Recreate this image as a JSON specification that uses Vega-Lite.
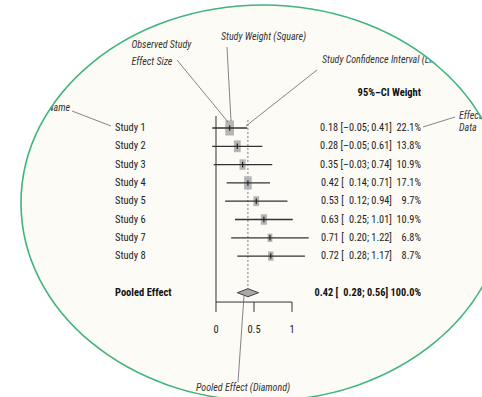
{
  "$schema": "https://vega.github.io/schema/vega-lite/v6.json",
  "width": 482,
  "height": 397,
  "autosize": {"type": "none"},
  "padding": 0,
  "background": "#ffffff",
  "config": {"view": {"stroke": null}, "text": {"font": "Roboto Condensed, Liberation Sans, sans-serif"}},
  "datasets": {
    "ellipse": [{"x": 0.6184, "y": 5.098}],
    "studies": [
      {"study": "Study 1", "te": 0.18, "lo": -0.05, "hi": 0.41, "w": 22.1, "row": 1, "txt": "0.18 [–0.05; 0.41]\u200222.1%"},
      {"study": "Study 2", "te": 0.28, "lo": -0.05, "hi": 0.61, "w": 13.8, "row": 2, "txt": "0.28 [–0.05; 0.61]\u200213.8%"},
      {"study": "Study 3", "te": 0.35, "lo": -0.03, "hi": 0.74, "w": 10.9, "row": 3, "txt": "0.35 [–0.03; 0.74]\u200210.9%"},
      {"study": "Study 4", "te": 0.42, "lo": 0.14, "hi": 0.71, "w": 17.1, "row": 4, "txt": "0.42 [\u20070.14; 0.71]\u200217.1%"},
      {"study": "Study 5", "te": 0.53, "lo": 0.12, "hi": 0.94, "w": 9.7, "row": 5, "txt": "0.53 [\u20070.12; 0.94]\u2002\u20079.7%"},
      {"study": "Study 6", "te": 0.63, "lo": 0.25, "hi": 1.01, "w": 10.9, "row": 6, "txt": "0.63 [\u20070.25; 1.01]\u200210.9%"},
      {"study": "Study 7", "te": 0.71, "lo": 0.20, "hi": 1.22, "w": 6.8, "row": 7, "txt": "0.71 [\u20070.20; 1.22]\u2002\u20076.8%"},
      {"study": "Study 8", "te": 0.72, "lo": 0.28, "hi": 1.17, "w": 8.7, "row": 8, "txt": "0.72 [\u20070.28; 1.17]\u2002\u20078.7%"}
    ],
    "pooled": [{"label": "Pooled Effect", "te": 0.42, "lo": 0.28, "hi": 0.56, "row": 10, "txt": "0.42 [\u20070.28; 0.56] 100.0%"}],
    "diamond": [
      {"x": 0.28, "y": 10, "y2": 10},
      {"x": 0.42, "y": 9.78, "y2": 10.22},
      {"x": 0.56, "y": 10, "y2": 10}
    ],
    "frame": [
      {"x": 0, "x2": 0, "y": 0.344, "y2": 11.05},
      {"x": 0, "x2": 1, "y": 10.51, "y2": 10.51},
      {"x": 0.5, "x2": 0.5, "y": 10.51, "y2": 11.05},
      {"x": 1, "x2": 1, "y": 10.51, "y2": 11.05}
    ],
    "ref": [{"x": 0.42, "x2": 0.42, "y": 0.56, "y2": 9.8}],
    "ticklabels": [{"v": 0, "label": "0"}, {"v": 0.5, "label": "0.5"}, {"v": 1, "label": "1"}],
    "header": [{"x": 2.697, "y": -0.913, "label": "95%–CI Weight"}],
    "leaders": [
      {"x": -1.8947, "y": 0.071, "x2": -1.3816, "y2": 0.891},
      {"x": -0.5132, "y": -2.716, "x2": 0.158, "y2": 0.672},
      {"x": 0.1447, "y": -3.426, "x2": 0.1974, "y2": 0.617},
      {"x": 1.329, "y": -2.169, "x2": 0.3947, "y2": 0.891},
      {"x": 3.1447, "y": 0.399, "x2": 2.7237, "y2": 0.945},
      {"x": 0.3684, "y": 10.18, "x2": 0.2895, "y2": 14.88}
    ],
    "notes": [
      {"x": -1.112, "y": -3.536, "label": "Observed Study"},
      {"x": -1.112, "y": -2.607, "label": "Effect Size"},
      {"x": 0.0658, "y": -4.0, "label": "Study Weight (Square)"},
      {"x": 1.3947, "y": -2.716, "label": "Study Confidence Interval (Line)"},
      {"x": 3.197, "y": 0.344, "label": "Effect"},
      {"x": 3.197, "y": 1.0, "label": "Data"},
      {"x": -0.263, "y": 15.21, "label": "Pooled Effect (Diamond)"}
    ],
    "notesRight": [{"x": -1.921, "y": -0.093, "label": "Study Name"}]
  },
  "layer": [
    {
      "data": {"name": "ellipse"},
      "mark": {"type": "point", "shape": "M -1 0 A 1 0.818 0 1 1 1 0 A 1 0.818 0 1 1 -1 0 Z", "filled": true, "fill": "#fcfbf6", "opacity": 1, "size": 234256, "strokeWidth": 0},
      "encoding": {
        "x": {"field": "x", "type": "quantitative", "scale": {"domain": [-2.8421, 3.5], "nice": false, "zero": false}, "axis": null},
        "y": {"field": "y", "type": "quantitative", "scale": {"domain": [-5.9945, 15.699], "reverse": true, "nice": false, "zero": false}, "axis": null}
      }
    },
    {
      "data": {"name": "frame"},
      "mark": {"type": "rule", "color": "#333333", "strokeWidth": 1},
      "encoding": {
        "x": {"field": "x", "type": "quantitative", "axis": null},
        "x2": {"field": "x2"},
        "y": {"field": "y", "type": "quantitative", "axis": null},
        "y2": {"field": "y2"}
      }
    },
    {
      "data": {"name": "ref"},
      "mark": {"type": "rule", "color": "#555555", "strokeWidth": 0.8, "strokeDash": [2, 2]},
      "encoding": {
        "x": {"field": "x", "type": "quantitative", "axis": null},
        "x2": {"field": "x2"},
        "y": {"field": "y", "type": "quantitative", "axis": null},
        "y2": {"field": "y2"}
      }
    },
    {
      "data": {"name": "studies"},
      "mark": {"type": "point", "shape": "M -0.58 -1 L 0.58 -1 L 0.58 1 L -0.58 1 Z", "filled": true, "fill": "#b5b5b5", "opacity": 1, "strokeWidth": 0},
      "encoding": {
        "x": {"field": "te", "type": "quantitative", "axis": null},
        "y": {"field": "row", "type": "quantitative", "axis": null},
        "size": {"field": "w", "type": "quantitative", "scale": {"type": "linear", "domain": [0, 22.1], "range": [0, 225], "zero": true}, "legend": null}
      }
    },
    {
      "data": {"name": "studies"},
      "mark": {"type": "rule", "color": "#333333", "strokeWidth": 1.3},
      "encoding": {
        "x": {"field": "lo", "type": "quantitative", "axis": null},
        "x2": {"field": "hi"},
        "y": {"field": "row", "type": "quantitative", "axis": null}
      }
    },
    {
      "data": {"name": "studies"},
      "mark": {"type": "point", "shape": "M 0 -1 L 0 1", "filled": false, "stroke": "#222222", "strokeWidth": 1.2, "opacity": 1, "size": 30},
      "encoding": {
        "x": {"field": "te", "type": "quantitative", "axis": null},
        "y": {"field": "row", "type": "quantitative", "axis": null}
      }
    },
    {
      "data": {"name": "diamond"},
      "mark": {"type": "area", "orient": "vertical", "fill": "#a9a9a9", "stroke": "#444444", "strokeWidth": 1, "opacity": 1},
      "encoding": {
        "x": {"field": "x", "type": "quantitative", "axis": null},
        "y": {"field": "y", "type": "quantitative", "axis": null},
        "y2": {"field": "y2"}
      }
    },
    {
      "data": {"name": "studies"},
      "mark": {"type": "text", "align": "left", "baseline": "middle", "fontSize": 10.5, "color": "#222222"},
      "encoding": {
        "x": {"datum": -1.329, "type": "quantitative", "axis": null},
        "y": {"field": "row", "type": "quantitative", "axis": null},
        "text": {"field": "study"}
      }
    },
    {
      "data": {"name": "studies"},
      "mark": {"type": "text", "align": "right", "baseline": "middle", "fontSize": 10.3, "color": "#222222"},
      "encoding": {
        "x": {"datum": 2.697, "type": "quantitative", "axis": null},
        "y": {"field": "row", "type": "quantitative", "axis": null},
        "text": {"field": "txt"}
      }
    },
    {
      "data": {"name": "pooled"},
      "mark": {"type": "text", "align": "left", "baseline": "middle", "fontSize": 10.5, "fontWeight": "bold", "color": "#111111"},
      "encoding": {
        "x": {"datum": -1.329, "type": "quantitative", "axis": null},
        "y": {"field": "row", "type": "quantitative", "axis": null},
        "text": {"field": "label"}
      }
    },
    {
      "data": {"name": "pooled"},
      "mark": {"type": "text", "align": "right", "baseline": "middle", "fontSize": 10.3, "fontWeight": "bold", "color": "#111111"},
      "encoding": {
        "x": {"datum": 2.697, "type": "quantitative", "axis": null},
        "y": {"field": "row", "type": "quantitative", "axis": null},
        "text": {"field": "txt"}
      }
    },
    {
      "data": {"name": "header"},
      "mark": {"type": "text", "align": "right", "baseline": "middle", "fontSize": 10.5, "fontWeight": "bold", "color": "#111111"},
      "encoding": {
        "x": {"field": "x", "type": "quantitative", "axis": null},
        "y": {"field": "y", "type": "quantitative", "axis": null},
        "text": {"field": "label"}
      }
    },
    {
      "data": {"name": "ticklabels"},
      "mark": {"type": "text", "align": "center", "baseline": "middle", "fontSize": 10.5, "color": "#222222"},
      "encoding": {
        "x": {"field": "v", "type": "quantitative", "axis": null},
        "y": {"datum": 12.04, "type": "quantitative", "axis": null},
        "text": {"field": "label"}
      }
    },
    {
      "data": {"name": "leaders"},
      "mark": {"type": "rule", "color": "#666666", "strokeWidth": 0.8},
      "encoding": {
        "x": {"field": "x", "type": "quantitative", "axis": null},
        "x2": {"field": "x2"},
        "y": {"field": "y", "type": "quantitative", "axis": null},
        "y2": {"field": "y2"}
      }
    },
    {
      "data": {"name": "notes"},
      "mark": {"type": "text", "align": "left", "baseline": "middle", "fontSize": 10, "fontStyle": "italic", "color": "#333333"},
      "encoding": {
        "x": {"field": "x", "type": "quantitative", "axis": null},
        "y": {"field": "y", "type": "quantitative", "axis": null},
        "text": {"field": "label"}
      }
    },
    {
      "data": {"name": "notesRight"},
      "mark": {"type": "text", "align": "right", "baseline": "middle", "fontSize": 10, "fontStyle": "italic", "color": "#333333"},
      "encoding": {
        "x": {"field": "x", "type": "quantitative", "axis": null},
        "y": {"field": "y", "type": "quantitative", "axis": null},
        "text": {"field": "label"}
      }
    },
    {
      "data": {"name": "ellipse"},
      "mark": {"type": "point", "shape": "M -2 -2 L 2 -2 L 2 2 L -2 2 Z M -1 0 A 1 0.818 0 1 0 1 0 A 1 0.818 0 1 0 -1 0 Z", "filled": true, "fill": "#ffffff", "opacity": 1, "size": 234256, "strokeWidth": 0},
      "encoding": {
        "x": {"field": "x", "type": "quantitative", "axis": null},
        "y": {"field": "y", "type": "quantitative", "axis": null}
      }
    },
    {
      "data": {"name": "ellipse"},
      "mark": {"type": "point", "shape": "M -1 0 A 1 0.818 0 1 1 1 0 A 1 0.818 0 1 1 -1 0 Z", "filled": false, "stroke": "#3fb47c", "strokeWidth": 1.6, "opacity": 1, "size": 234256},
      "encoding": {
        "x": {"field": "x", "type": "quantitative", "axis": null},
        "y": {"field": "y", "type": "quantitative", "axis": null}
      }
    }
  ]
}
